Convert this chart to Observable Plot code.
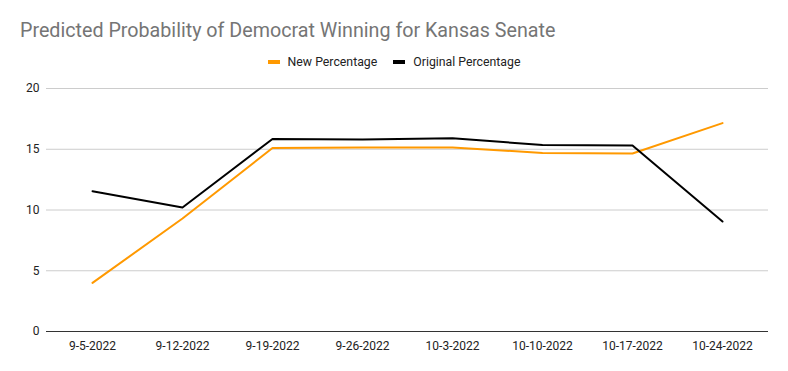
<!DOCTYPE html>
<html>
<head>
<meta charset="utf-8">
<script src="https://cdn.jsdelivr.net/npm/d3@7"></script>
<script src="https://cdn.jsdelivr.net/npm/@observablehq/plot@0.6"></script>
<style>
  body { margin: 0; background: #fff; font-family: Roboto, "Liberation Sans", Arial, sans-serif; }
  #wrap { width: 788px; height: 371px; position: relative; overflow: hidden; }
  #title { position: absolute; left: 20px; top: 19px; font-size: 19.7px; color: #757575; white-space: nowrap; }
  #legend { position: absolute; left: 0; top: 53px; width: 788px; text-align: center; font-size: 12.3px; color: #222; }
  #legend span.item { display: inline-flex; align-items: center; margin: 0 8px; }
  #legend span.sw { display: inline-block; width: 12px; height: 4px; margin-right: 8px; }
  #chart { position: absolute; left: 0; top: 75px; }
</style>
</head>
<body>
<div id="wrap">
  <div id="title">Predicted Probability of Democrat Winning for Kansas Senate</div>
  <div id="legend"></div>
  <div id="chart"></div>
</div>
<script>
const dates = ["9-5-2022", "9-12-2022", "9-19-2022", "9-26-2022", "10-3-2022", "10-10-2022", "10-17-2022", "10-24-2022"];
const newPercentage = [4.0, 9.3, 15.1, 15.15, 15.15, 14.7, 14.65, 17.15];
const originalPercentage = [11.55, 10.2, 15.85, 15.8, 15.9, 15.35, 15.3, 9.05];
const seriesNames = ["New Percentage", "Original Percentage"];
const seriesColors = ["#ff9900", "#000000"];
const yTicks = [0, 5, 10, 15, 20];

const rows = [];
dates.forEach((d, i) => {
  rows.push({date: d, value: newPercentage[i], series: seriesNames[0]});
  rows.push({date: d, value: originalPercentage[i], series: seriesNames[1]});
});

const legend = document.getElementById("legend");
seriesNames.forEach((n, i) => {
  const it = document.createElement("span");
  it.className = "item";
  const sw = document.createElement("span");
  sw.className = "sw";
  sw.style.background = seriesColors[i];
  it.appendChild(sw);
  it.appendChild(document.createTextNode(n));
  legend.appendChild(it);
});

const chart = Plot.plot({
  width: 788,
  height: 296,
  marginTop: 13,
  marginBottom: 40,
  marginLeft: 46,
  marginRight: 20,
  style: {fontFamily: "Roboto, 'Liberation Sans', Arial, sans-serif", fontSize: "12px", color: "#444", background: "#fff"},
  x: {type: "point", domain: dates, padding: 0.5, label: null, tickSize: 0, tickPadding: 10},
  y: {domain: [0, 20], ticks: yTicks, label: null, tickSize: 0, tickPadding: 7, grid: false},
  color: {domain: seriesNames, range: seriesColors},
  marks: [
    Plot.gridY(yTicks.filter(t => t > 0), {stroke: "#cccccc", strokeOpacity: 1, strokeWidth: 1}),
    Plot.ruleY([0], {stroke: "#333333", strokeWidth: 1}),
    Plot.line(rows, {x: "date", y: "value", z: "series", stroke: "series", strokeWidth: 2, curve: "linear"}),
    Plot.axisX({tickSize: 0, tickPadding: 10, fill: "#222"}),
    Plot.axisY({ticks: yTicks, tickSize: 0, tickPadding: 7, fill: "#222"})
  ]
});
document.getElementById("chart").appendChild(chart);
</script>
</body>
</html>
